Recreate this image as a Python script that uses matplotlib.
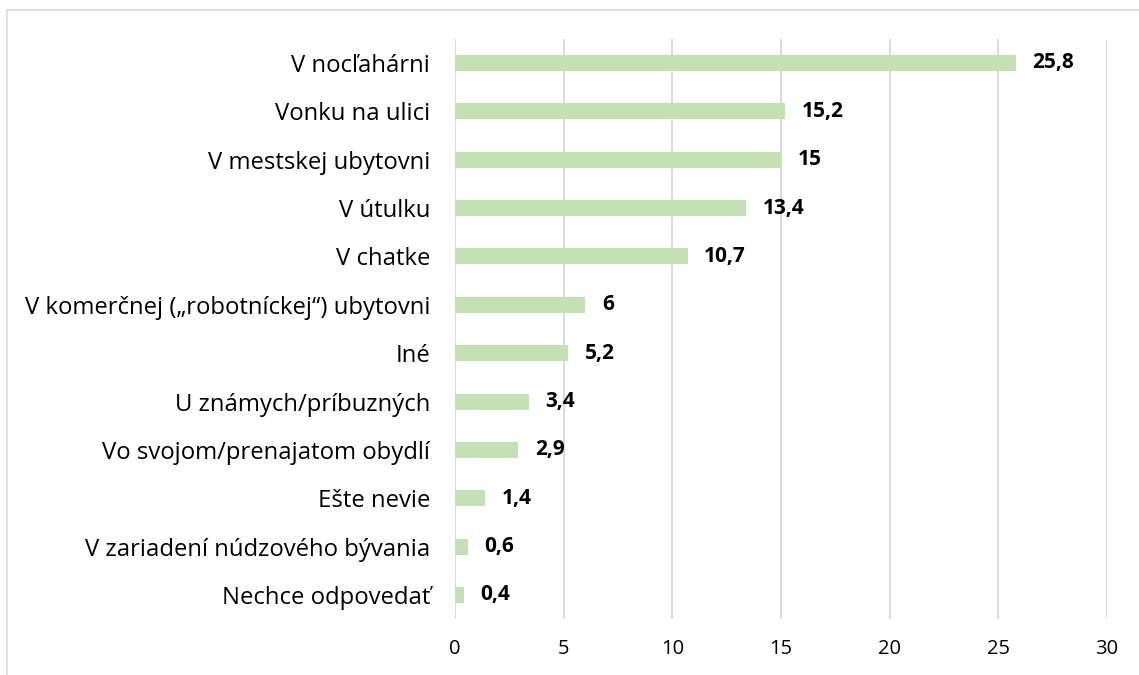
import matplotlib
matplotlib.use("Agg")
import matplotlib.pyplot as plt
from matplotlib.patches import Rectangle

categories = [
    "V nocľahárni",
    "Vonku na ulici",
    "V mestskej ubytovni",
    "V útulku",
    "V chatke",
    "V komerčnej („robotníckej“) ubytovni",
    "Iné",
    "U známych/príbuzných",
    "Vo svojom/prenajatom obydlí",
    "Ešte nevie",
    "V zariadení núdzového bývania",
    "Nechce odpovedať",
]
values = [25.8, 15.2, 15, 13.4, 10.7, 6, 5.2, 3.4, 2.9, 1.4, 0.6, 0.4]
x_ticks = [0, 5, 10, 15, 20, 25, 30]

plt.rcParams["font.family"] = ["Open Sans", "DejaVu Sans"]

fig = plt.figure(figsize=(11.39, 6.75), dpi=100)
ax = fig.add_axes([0.3995, 0.0827, 0.5725, 0.8598])

# Chart border
fig.patches.append(Rectangle((7 / 1139, -0.01), 1.02, 1 - 10 / 675 + 0.01,
                             transform=fig.transFigure, fill=False,
                             edgecolor="#d9d9d9", linewidth=1.2))

y = list(range(len(categories)))
ax.barh(y, values, height=0.33, color="#c5e0b4", zorder=2)
ax.set_yticks(y)
ax.set_yticklabels(categories, fontsize=17.2, color="#000000")
ax.set_ylim(len(categories) - 0.5, -0.5)

ax.set_xlim(0, 30)
ax.set_xticks(x_ticks)
ax.set_xticklabels([str(t) for t in x_ticks], fontsize=14.5, color="#000000")
ax.xaxis.grid(True, color="#d9d9d9", linewidth=1.3, zorder=0)
ax.tick_params(axis="both", length=0)
ax.tick_params(axis="y", pad=18)
ax.tick_params(axis="x", pad=14)
for s in ax.spines.values():
    s.set_visible(False)

for yi, v in zip(y, values):
    ax.annotate(f"{v:g}".replace(".", ","), (v, yi), xytext=(12, 0),
                textcoords="offset points", va="center", ha="left",
                fontsize=15, fontweight="bold", color="#000000")

fig.savefig("out.png", dpi=100)
